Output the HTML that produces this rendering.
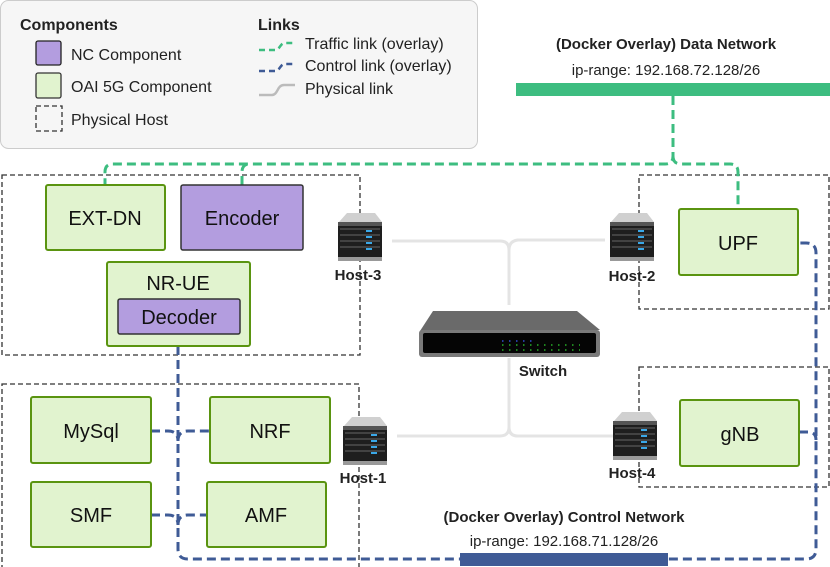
<!DOCTYPE html>
<html><head><meta charset="utf-8"><style>
html,body{margin:0;padding:0;background:#fff}
svg{display:block}
text{font-family:"Liberation Sans",sans-serif}
</style></head><body>
<svg width="830" height="567" viewBox="0 0 830 567" xmlns="http://www.w3.org/2000/svg">
<defs>
<g id="srv">
<polygon points="1,9 9,0 37,0 44,9" fill="#d0d0d0"/>
<rect x="0" y="9" width="44" height="38" fill="#1e1e1e"/>
<rect x="0" y="9" width="44" height="4" fill="#555"/>
<g stroke="#666" stroke-width="1">
<line x1="2" y1="16" x2="42" y2="16"/><line x1="2" y1="22" x2="42" y2="22"/><line x1="2" y1="28" x2="42" y2="28"/><line x1="2" y1="34" x2="42" y2="34"/></g>
<g fill="#3aa8e8"><rect x="28" y="17" width="6" height="2"/><rect x="28" y="23" width="6" height="2"/><rect x="28" y="29" width="6" height="2"/><rect x="28" y="35" width="6" height="2"/></g>
<rect x="0" y="44" width="44" height="4" fill="#999"/>
</g>
</defs>

<!-- legend -->
<rect x="0.5" y="0.5" width="477" height="148" rx="8" fill="#f6f6f6" stroke="#ccc"/>
<text x="20" y="30" font-size="16" font-weight="bold" fill="#222">Components</text>
<rect x="36" y="41" width="25" height="24" rx="2" fill="#b39ddf" stroke="#222" stroke-width="1.3"/>
<rect x="36" y="73" width="25" height="25" rx="2" fill="#e1f3cf" stroke="#333" stroke-width="1.3"/>
<rect x="36" y="106" width="26" height="25" fill="none" stroke="#333" stroke-width="1.3" stroke-dasharray="5,3"/>
<text x="71" y="60" font-size="16" fill="#222">NC Component</text>
<text x="71" y="92" font-size="16" fill="#222">OAI 5G Component</text>
<text x="71" y="125" font-size="16" fill="#222">Physical Host</text>
<text x="258" y="30" font-size="16" font-weight="bold" fill="#222">Links</text>
<path d="M259,50 H275 C280,50 280,43 285,43 H295" fill="none" stroke="#3dbd80" stroke-width="2.5" stroke-dasharray="6,4"/>
<path d="M259,71 H275 C280,71 280,64 285,64 H295" fill="none" stroke="#3f5b96" stroke-width="2.5" stroke-dasharray="6,4"/>
<path d="M259,95 H272 C278,95 277,85 284,85 H295" fill="none" stroke="#bbb" stroke-width="2.5"/>
<text x="305" y="49" font-size="16" fill="#222">Traffic link (overlay)</text>
<text x="305" y="71" font-size="16" fill="#222">Control link (overlay)</text>
<text x="305" y="94" font-size="16" fill="#222">Physical link</text>

<!-- data network -->
<text x="666" y="49" font-size="15" font-weight="bold" fill="#222" text-anchor="middle">(Docker Overlay) Data  Network</text>
<text x="666" y="75" font-size="15" fill="#222" text-anchor="middle">ip-range: 192.168.72.128/26</text>
<rect x="516" y="83" width="314" height="13" fill="#3dbd80"/>

<!-- physical links -->
<g fill="none" stroke="#e4e4e4" stroke-width="3">
<path d="M392,241 H500 Q509,241 509,250 V305"/>
<path d="M509,250 Q509,241 518,240 H605"/>
<path d="M509,358 V427 Q509,436 500,436 H397"/>
<path d="M509,427 Q509,436 518,436 H617"/>
</g>

<!-- host boxes -->
<g fill="none" stroke="#333" stroke-width="1.3" stroke-dasharray="5,3">
<rect x="2" y="175" width="358" height="180"/>
<rect x="639" y="175" width="190" height="134"/>
<rect x="2" y="384" width="357" height="200"/>
<rect x="639" y="367" width="190" height="120"/>
</g>

<!-- traffic links -->
<g fill="none" stroke="#3dbd80" stroke-width="3" stroke-dasharray="9,5">
<path d="M673,96 V156 Q673,164 665,164 H113 Q105,164 105,172 V185"/>
<path d="M242,185 V172 Q242,164 250,164"/>
<path d="M673,156 Q673,164 681,164 H730 Q738,164 738,172 V209"/>
</g>

<!-- control links -->
<g fill="none" stroke="#3f5b96" stroke-width="3" stroke-dasharray="9,5">
<path d="M178,346 V549 Q178,559 188,559 H806 Q816,559 816,549 V253 Q816,243 806,243 H798"/>
<path d="M799,432 H808 Q816,432 816,440"/>
<path d="M151,431 H168 Q178,431 178,441 M178,441 Q178,431 188,431 H210"/>
<path d="M151,515 H168 Q178,515 178,525 M178,525 Q178,515 188,515 H207"/>
</g>
<rect x="460" y="553" width="208" height="13" fill="#3f5b96"/>
<text x="564" y="522" font-size="15" font-weight="bold" fill="#222" text-anchor="middle">(Docker Overlay) Control Network</text>
<text x="564" y="546" font-size="15" fill="#222" text-anchor="middle">ip-range: 192.168.71.128/26</text>

<!-- components -->
<g stroke="#5a9410" stroke-width="2" fill="#e1f3cf">
<rect x="46" y="185" width="119" height="65" rx="2"/>
<rect x="107" y="262" width="143" height="84" rx="2"/>
<rect x="679" y="209" width="119" height="66" rx="2"/>
<rect x="31" y="397" width="120" height="66" rx="2"/>
<rect x="210" y="397" width="120" height="66" rx="2"/>
<rect x="31" y="482" width="120" height="65" rx="2"/>
<rect x="207" y="482" width="119" height="65" rx="2"/>
<rect x="680" y="400" width="119" height="66" rx="2"/>
</g>
<g stroke="#333" stroke-width="1.5" fill="#b39ddf">
<rect x="181" y="185" width="122" height="65" rx="2"/>
<rect x="118" y="299" width="122" height="35" rx="2"/>
</g>
<g font-size="20" fill="#111" text-anchor="middle">
<text x="105" y="225">EXT-DN</text>
<text x="242" y="225">Encoder</text>
<text x="178" y="290">NR-UE</text>
<text x="179" y="324">Decoder</text>
<text x="738" y="250">UPF</text>
<text x="91" y="438">MySql</text>
<text x="270" y="438">NRF</text>
<text x="91" y="522">SMF</text>
<text x="266" y="522">AMF</text>
<text x="740" y="441">gNB</text>
</g>

<!-- switch -->
<polygon points="420,331 433,311 577,311 600,330" fill="#6a6a6a"/>
<rect x="419" y="330" width="181" height="27" rx="3" fill="#7a7a7a"/>
<rect x="423" y="333" width="173" height="20" rx="2" fill="#050505"/>
<path d="M502,345 H580 M502,350 H580" stroke="#2fd02f" stroke-width="1.2" stroke-dasharray="1.5,5.5"/>
<path d="M502,341 H532" stroke="#3a5cff" stroke-width="1.2" stroke-dasharray="1.5,5.5"/>
<text x="543" y="376" font-size="15" font-weight="bold" fill="#222" text-anchor="middle">Switch</text>

<!-- servers -->
<use href="#srv" x="338" y="213"/>
<use href="#srv" x="610" y="213"/>
<use href="#srv" x="343" y="417"/>
<use href="#srv" x="613" y="412"/>
<g font-size="15" font-weight="bold" fill="#222" text-anchor="middle">
<text x="358" y="280">Host-3</text>
<text x="632" y="281">Host-2</text>
<text x="363" y="483">Host-1</text>
<text x="632" y="478">Host-4</text>
</g>
</svg>
</body></html>
